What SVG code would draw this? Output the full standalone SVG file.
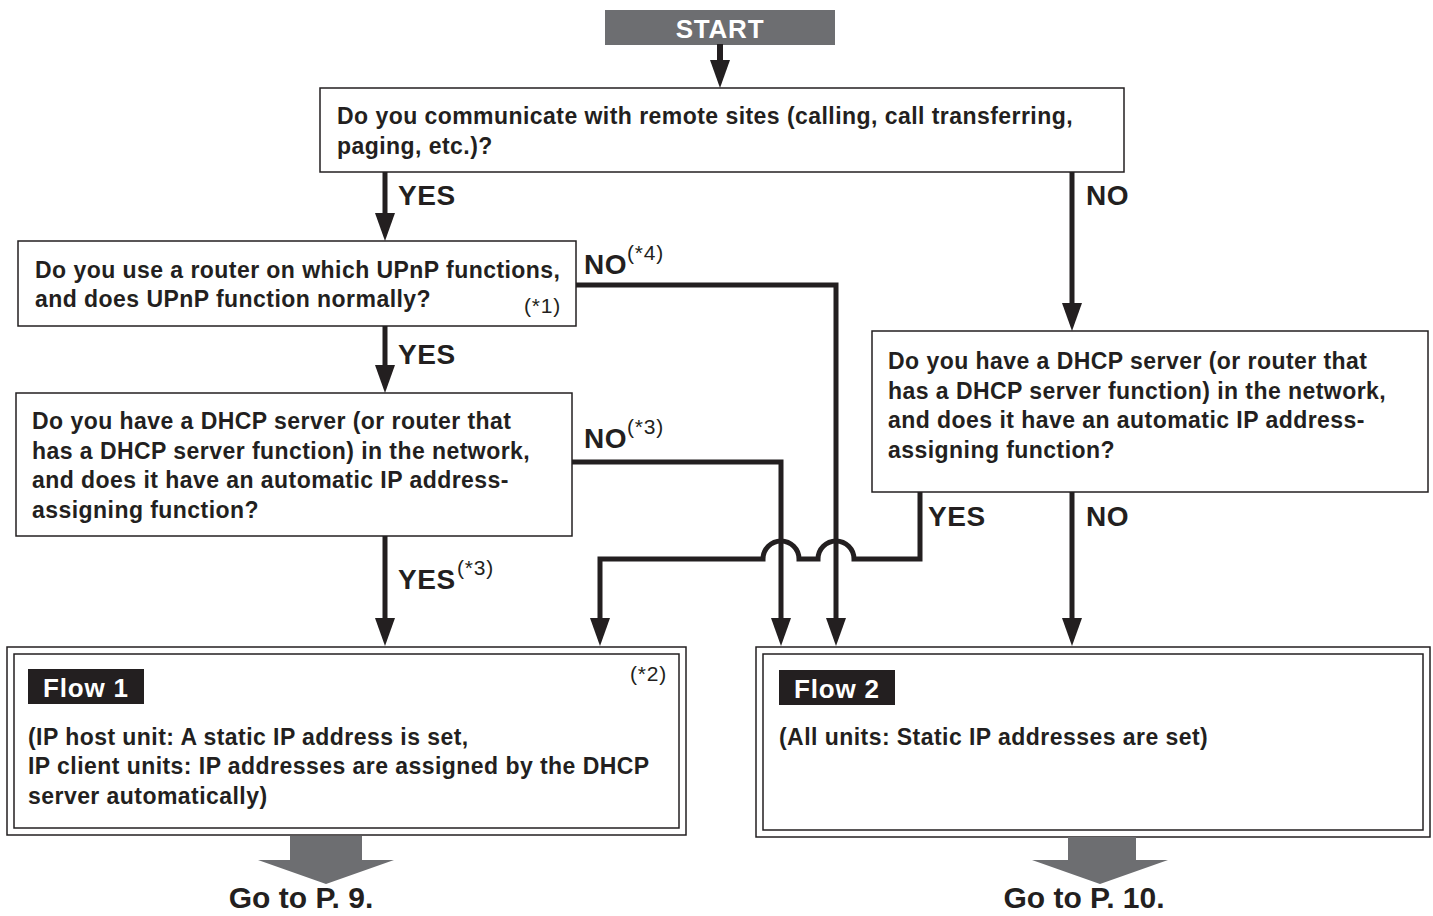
<svg xmlns="http://www.w3.org/2000/svg" width="1433" height="916" viewBox="0 0 1433 916">
<style>
.box{fill:#fff;stroke:#231f20;stroke-width:1.5}
.t{font-family:"Liberation Sans",Arial,sans-serif;font-weight:bold;font-size:23px;letter-spacing:0.45px;fill:#231f20}
.lbl{font-family:"Liberation Sans",Arial,sans-serif;font-weight:bold;font-size:28px;letter-spacing:0.6px;fill:#231f20}
.sup{font-family:"Liberation Sans",Arial,sans-serif;font-size:21px;letter-spacing:0.8px;fill:#231f20}
.w{font-family:"Liberation Sans",Arial,sans-serif;font-weight:bold;fill:#fff}
.c{fill:none;stroke:#231f20;stroke-width:5;marker-end:url(#ah)}
.big{fill:#6d6e71}
.go{font-family:"Liberation Sans",Arial,sans-serif;font-weight:bold;font-size:30px;fill:#231f20;text-anchor:middle}
</style>
<defs>
<marker id="ah" viewBox="0 0 28 20" refX="13" refY="10" markerWidth="28" markerHeight="20" markerUnits="userSpaceOnUse" orient="auto">
<path d="M0,0 L28,10 L0,20 z" fill="#231f20"/>
</marker>
</defs>

<g id="start">
<rect x="605" y="10" width="230" height="35" fill="#6d6e71"/>
<text class="w" x="720" y="38" font-size="26" letter-spacing="0.8" text-anchor="middle">START</text>
</g>

<g id="q1">
<rect class="box" x="320" y="88" width="804" height="84"/>
<text class="t" x="337" y="124">Do you communicate with remote sites (calling, call transferring,</text>
<text class="t" x="337" y="153.5">paging, etc.)?</text>
</g>

<g id="q2">
<rect class="box" x="18" y="241" width="558" height="85"/>
<text class="t" x="35" y="278">Do you use a router on which UPnP functions,</text>
<text class="t" x="35" y="307">and does UPnP function normally?</text>
<text class="sup" x="524" y="313">(*1)</text>
</g>

<g id="q3">
<rect class="box" x="16" y="393" width="556" height="143"/>
<text class="t" x="32" y="429">Do you have a DHCP server (or router that</text>
<text class="t" x="32" y="458.5">has a DHCP server function) in the network,</text>
<text class="t" x="32" y="488">and does it have an automatic IP address-</text>
<text class="t" x="32" y="517.5">assigning function?</text>
</g>

<g id="q4">
<rect class="box" x="872" y="331" width="556" height="161"/>
<text class="t" x="888" y="369">Do you have a DHCP server (or router that</text>
<text class="t" x="888" y="398.5">has a DHCP server function) in the network,</text>
<text class="t" x="888" y="428">and does it have an automatic IP address-</text>
<text class="t" x="888" y="457.5">assigning function?</text>
</g>

<g id="flow1">
<rect class="box" x="7" y="647" width="679" height="188"/>
<rect class="box" x="14" y="654" width="665" height="174"/>
<rect x="28" y="669" width="116" height="35" fill="#231f20"/>
<text class="w" x="43" y="697" font-size="26" letter-spacing="0.8">Flow 1</text>
<text class="sup" x="630" y="681">(*2)</text>
<text class="t" x="28" y="745">(IP host unit: A static IP address is set,</text>
<text class="t" x="28" y="774">IP client units: IP addresses are assigned by the DHCP</text>
<text class="t" x="28" y="804">server automatically)</text>
<polygon class="big" points="290,836 362,836 362,860 394,860 326,884 258,860 290,860"/>
<text class="go" x="301" y="908">Go to P. 9.</text>
</g>

<g id="flow2">
<rect class="box" x="756" y="647" width="674" height="190"/>
<rect class="box" x="763" y="654" width="660" height="176"/>
<rect x="779" y="670" width="116" height="35" fill="#231f20"/>
<text class="w" x="794" y="698" font-size="26" letter-spacing="0.8">Flow 2</text>
<text class="t" x="779" y="745">(All units: Static IP addresses are set)</text>
<polygon class="big" points="1068,837 1136,837 1136,860 1168,860 1100,884 1032,860 1068,860"/>
<text class="go" x="1084" y="908">Go to P. 10.</text>
</g>

<g id="connectors">
<path d="M720,44 V73" fill="none" stroke="#231f20" stroke-width="6" marker-end="url(#ah)"/>
<path class="c" d="M385,172 V226"/>
<path class="c" d="M1072,172 V316"/>
<path class="c" d="M576,285 H836 V631"/>
<path class="c" d="M385,326 V378"/>
<path class="c" d="M572,462 H781 V631"/>
<path class="c" d="M385,536 V631"/>
<path class="c" d="M920,492 V559 H854 A18,18 0 0 0 818,559 H799 A18,18 0 0 0 763,559 H600 V631"/>
<path class="c" d="M1072,492 V631"/>
</g>

<g id="labels">
<text class="lbl" x="398" y="205">YES</text>
<text class="lbl" x="1086" y="205">NO</text>
<text class="lbl" x="584" y="274">NO</text>
<text class="sup" x="627" y="260">(*4)</text>
<text class="lbl" x="398" y="364">YES</text>
<text class="lbl" x="584" y="448">NO</text>
<text class="sup" x="627" y="434">(*3)</text>
<text class="lbl" x="398" y="589">YES</text>
<text class="sup" x="457" y="575">(*3)</text>
<text class="lbl" x="928" y="526">YES</text>
<text class="lbl" x="1086" y="526">NO</text>
</g>
</svg>
